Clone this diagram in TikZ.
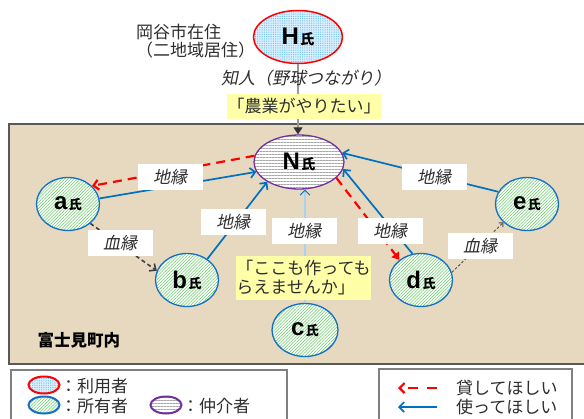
\documentclass[tikz,border=0pt]{standalone}
\usepackage{fontspec}
\setmainfont{Liberation Sans}
\newfontfamily\jp{Noto Sans CJK JP}
\newfontfamily\jpit{Noto Sans CJK JP}[FakeSlant=0.2]
\usetikzlibrary{shapes.geometric,arrows.meta,patterns.meta}
\definecolor{beige}{RGB}{231,217,191}
\definecolor{yel}{RGB}{255,255,168}
\definecolor{lnblue}{RGB}{0,112,192}
\definecolor{ringblue}{RGB}{20,110,195}
\definecolor{hatch}{RGB}{110,205,110}
\definecolor{purp}{RGB}{112,48,160}
\definecolor{dotblue}{RGB}{100,185,235}
\definecolor{paleblue}{RGB}{220,242,255}
\definecolor{txt}{RGB}{45,45,45}
\definecolor{pale2}{RGB}{170,210,240}
\newcommand\shi[3]{{\fontsize{#1}{#1}\selectfont\bfseries #3}\hspace{1.5pt}{\jp\bfseries\fontsize{#2}{#2}\selectfont 氏}}
\begin{document}
\begin{tikzpicture}[x=1pt,y=-1pt,
  userfill/.style={preaction={fill=paleblue}, pattern={Dots[radius=0.5pt,distance=1.8pt]}, pattern color=dotblue},
  ownerfill/.style={preaction={fill=white}, pattern={Lines[angle=45,distance=2.2pt,line width=0.55pt]}, pattern color=hatch},
  medfill/.style={preaction={fill=white}, pattern={Lines[angle=0,distance=3pt,line width=0.6pt]}, pattern color=black!35},
  person/.style={ellipse, ownerfill, draw=ringblue, line width=1.3pt, inner sep=0pt, minimum width=63pt, minimum height=53pt},
  tag/.style={fill=white, minimum width=65pt, minimum height=26pt, inner sep=0pt, font=\jpit\fontsize{17}{17}\selectfont, text=txt},
  ybox/.style={fill=yel, inner sep=0pt, font=\jp\fontsize{17}{19}\selectfont, text=txt},
  jtext/.style={inner sep=0pt, font=\jp\fontsize{17}{18}\selectfont, text=txt},
  blueln/.style={draw=lnblue, line width=1.7pt, -{Straight Barb[length=5pt,width=10pt]}},
  redln/.style={draw=red, line width=2.2pt, dash pattern=on 9pt off 6pt},
  kinln/.style={draw=black!75, line width=1.6pt, dash pattern=on 4pt off 3pt, -{Straight Barb[length=5pt,width=9pt]}},
  kinln2/.style={draw=black!70, line width=0.9pt, dash pattern=on 2.5pt off 2pt, -{Straight Barb[length=3pt,width=6pt]}}
]
\useasboundingbox (0,0) rectangle (584,418);
% territory
\fill[beige] (9,124) rectangle (590,364);
\draw[line width=1.2pt, black!65] (590,124) -- (9,124) -- (9,364) -- (590,364);

% people
\node[ellipse, userfill, draw=red, line width=1.5pt, inner sep=0pt, minimum width=89pt, minimum height=53pt] (H) at (298,37) {\shi{24}{14}{H}};
\node[ellipse, medfill, draw=purp, line width=1.3pt, inner sep=0pt, minimum width=90pt, minimum height=54pt] (N) at (299,162) {\shi{24}{14}{N}};
\node[person] (a) at (68,204) {\shi{24}{13}{a}};
\node[person] (b) at (187,280) {\shi{24}{13}{b}};
\node[person, minimum width=66pt] (c) at (305,330) {\shi{24}{13}{c}};
\node[person] (d) at (421,280) {\shi{24}{13}{d}};
\node[person] (e) at (527,204) {\shi{24}{13}{e}};

% connectors
\draw[draw=black!80, double=black!40, double distance=1.3pt, line width=0.8pt, -{Triangle[length=7pt,width=9pt]}] (H.south) -- (H.south |- N.north);
\draw[draw=lnblue, double=pale2, double distance=1.3pt, line width=0.8pt, -{Straight Barb[length=5pt,width=10pt]}] (c.north) -- (c.north |- N.south);
\draw[redln, -{Straight Barb[length=5pt,width=10pt]}] (N.172) -- (a.37);
\draw[blueln] (a.10) -- (N.193);
\draw[kinln] (a.-41) -- (b.163);
\draw[blueln] (b.46) -- (N.212);
\draw[redln, -{Triangle[length=7pt,width=9pt]}] (N.337) -- (d.137);
\draw[blueln] (d.108) -- (N.351);
\draw[blueln] (e.157) -- (N.12);
\draw[kinln2] (d.14) -- (e.218);

% labels
\node[jtext, anchor=west, align=left] (loc) at (136,41) {岡谷市在住\\（二地域居住）};
\node[jtext, font=\jpit\fontsize{17}{18}\selectfont] (know) at (306,78) {知人（野球つながり）};
\node[ybox, minimum width=154pt, minimum height=25pt] (want) at (304,106) {「農業がやりたい」};
\node[ybox, minimum width=133pt, minimum height=44pt, align=left] (ask) at (303.5,278) {「ここも作っても\\らえませんか」};
\node[inner sep=0pt, font=\jp\bfseries\fontsize{16.5}{18}\selectfont] (town) at (79,340) {富士見町内};
\node[tag] (t1) at (170,177) {地縁};
\node[tag] (t2) at (120,243) {血縁};
\node[tag] (t3) at (233,222) {地縁};
\node[tag] (t4) at (304,231) {地縁};
\node[tag] (t5) at (390,231) {地縁};
\node[tag] (t6) at (434,177) {地縁};
\node[tag] (t7) at (480,246) {血縁};

% legend left
\draw[black!50, line width=1.8pt] (11,370) rectangle (287,430);
\node[ellipse, userfill, draw=red, line width=2pt, inner sep=0pt, minimum width=31pt, minimum height=17pt] (lu) at (44,385) {};
\node[jtext, anchor=west] (lut) at (60,386) {：利用者};
\node[ellipse, ownerfill, draw=ringblue, line width=2pt, inner sep=0pt, minimum width=31pt, minimum height=17pt] (lo) at (44,405) {};
\node[jtext, anchor=west] (lot) at (60,406) {：所有者};
\node[ellipse, medfill, draw=purp, line width=2pt, inner sep=0pt, minimum width=31pt, minimum height=17pt] (lm) at (166,405) {};
\node[jtext, anchor=west] (lmt) at (182,406) {：仲介者};

% legend right
\draw[black!50, line width=1.5pt] (379,369) rectangle (572,430);
\coordinate (r1s) at (437,388);
\coordinate (r1e) at (398,388);
\coordinate (r2s) at (437,407);
\coordinate (r2e) at (398,407);
\draw[draw=red, line width=2.2pt, dash pattern=on 10pt off 9pt, -{Straight Barb[length=5pt,width=10pt]}] (r1s) -- (r1e);
\draw[blueln] (r2s) -- (r2e);
\node[jtext, anchor=west] (l1) at (456,388) {貸してほしい};
\node[jtext, anchor=west] (l2) at (456,407) {使ってほしい};
\end{tikzpicture}
\end{document}
